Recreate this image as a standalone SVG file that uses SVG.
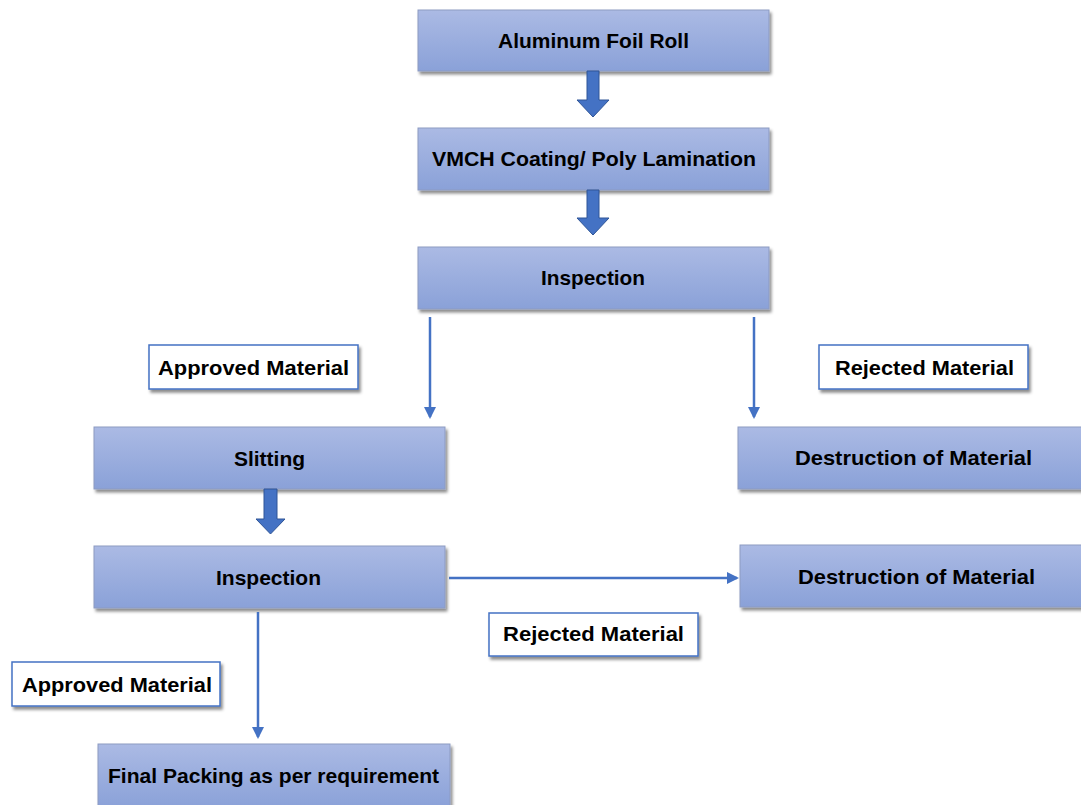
<svg xmlns="http://www.w3.org/2000/svg" width="1081" height="805" viewBox="0 0 1081 805">
<defs>
<linearGradient id="g" x1="0" y1="0" x2="0" y2="1">
<stop offset="0" stop-color="#abbae4"/>
<stop offset="1" stop-color="#8aa1d8"/>
</linearGradient>
<filter id="sh" x="-10%" y="-20%" width="120%" height="150%">
<feDropShadow dx="2" dy="3" stdDeviation="1.8" flood-color="#000" flood-opacity="0.45"/>
</filter>
<marker id="ah" markerWidth="12" markerHeight="12" refX="10" refY="6" orient="auto" markerUnits="userSpaceOnUse">
<path d="M0,0 L12,6 L0,12 Z" fill="#4472c4"/>
</marker>
<style>
.box{fill:url(#g);stroke:#8d9bc2;stroke-width:1;filter:url(#sh)}
.lbl{fill:#fff;stroke:#4472c4;stroke-width:1.5;filter:url(#sh)}
.t{font-family:"Liberation Sans",Arial,sans-serif;font-weight:bold;font-size:21px;fill:#000;text-anchor:middle}
.ln{stroke:#4472c4;stroke-width:2.5;fill:none;marker-end:url(#ah)}
.blk{fill:#4472c4;stroke:#2f5597;stroke-width:1}
</style>
</defs>
<rect width="1081" height="805" fill="#fff"/>

<g id="n1"><rect class="box" x="418" y="10" width="351" height="61"/><text class="t" x="593.5" y="48" textLength="191" lengthAdjust="spacingAndGlyphs">Aluminum Foil Roll</text></g>
<g id="n2"><rect class="box" x="418" y="128" width="351" height="62"/><text class="t" x="594" y="166" textLength="324" lengthAdjust="spacingAndGlyphs">VMCH Coating/ Poly Lamination</text></g>
<g id="n3"><rect class="box" x="418" y="247" width="351" height="62"/><text class="t" x="593" y="285" textLength="104" lengthAdjust="spacingAndGlyphs">Inspection</text></g>
<g id="n4"><rect class="box" x="94" y="427" width="351" height="62"/><text class="t" x="269.5" y="466" textLength="71" lengthAdjust="spacingAndGlyphs">Slitting</text></g>
<g id="n5"><rect class="box" x="738" y="427" width="352" height="62"/><text class="t" x="913.5" y="465" textLength="237" lengthAdjust="spacingAndGlyphs">Destruction of Material</text></g>
<g id="n6"><rect class="box" x="94" y="546" width="351" height="62"/><text class="t" x="268.5" y="585" textLength="105" lengthAdjust="spacingAndGlyphs">Inspection</text></g>
<g id="n7"><rect class="box" x="740" y="545" width="350" height="62"/><text class="t" x="916.5" y="584" textLength="237" lengthAdjust="spacingAndGlyphs">Destruction of Material</text></g>
<g id="n8"><rect class="box" x="98" y="744" width="352" height="64"/><text class="t" x="273.5" y="783" textLength="331" lengthAdjust="spacingAndGlyphs">Final Packing as per requirement</text></g>

<g id="l1"><rect class="lbl" x="149" y="345" width="209" height="44"/><text class="t" x="253.5" y="375" textLength="191" lengthAdjust="spacingAndGlyphs">Approved Material</text></g>
<g id="l2"><rect class="lbl" x="819" y="345" width="209" height="44"/><text class="t" x="924.5" y="375" textLength="179" lengthAdjust="spacingAndGlyphs">Rejected Material</text></g>
<g id="l3"><rect class="lbl" x="489" y="613" width="209" height="43"/><text class="t" x="593.5" y="641" textLength="181" lengthAdjust="spacingAndGlyphs">Rejected Material</text></g>
<g id="l4"><rect class="lbl" x="12" y="662" width="208" height="44"/><text class="t" x="117" y="692" textLength="190" lengthAdjust="spacingAndGlyphs">Approved Material</text></g>

<g id="connectors">
<path class="blk" d="M587,71 L599,71 L599,100 L609,100 L593,117 L577,100 L587,100 Z"/>
<path class="blk" d="M587,190 L599,190 L599,218 L609,218 L593,235 L577,218 L587,218 Z"/>
<path class="blk" d="M264,489 L277,489 L277,519 L285,519 L270.5,534 L256,519 L264,519 Z"/>
<line class="ln" x1="430" y1="317" x2="430" y2="417"/>
<line class="ln" x1="754" y1="317" x2="754" y2="417"/>
<line class="ln" x1="449" y1="578" x2="737" y2="578"/>
<line class="ln" x1="258" y1="612" x2="258" y2="737"/>
</g>
</svg>
